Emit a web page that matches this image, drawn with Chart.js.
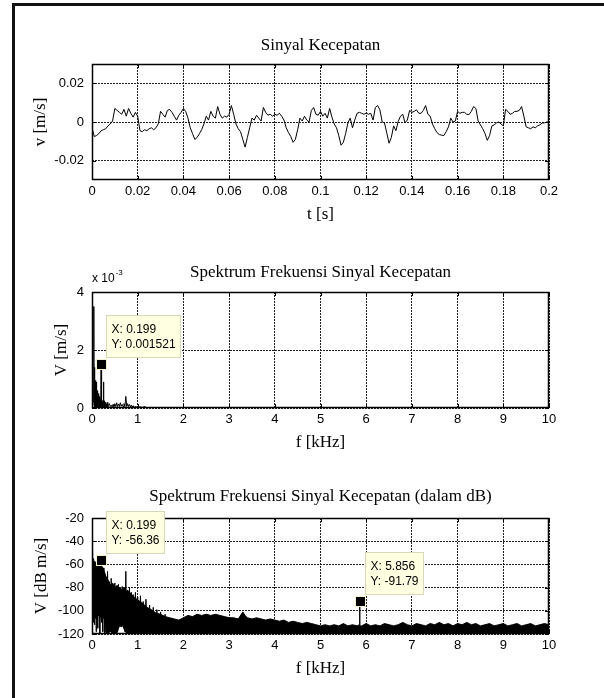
<!DOCTYPE html>
<html>
<head>
<meta charset="utf-8">
<script src="https://cdn.jsdelivr.net/npm/chart.js@4.4.0/dist/chart.umd.min.js"></script>
<style>
  html, body { margin: 0; padding: 0; background: #fff; }
  body { width: 604px; height: 698px; position: relative; overflow: hidden; }
  #frame { position: absolute; left: 12px; top: 3px; width: 600px; height: 700px;
           border-left: 3px solid #111; border-top: 3px solid #111; }
  canvas { position: absolute; left: 15px; }
  #c1 { top: 14px; }
  #c2 { top: 242px; }
  #c3 { top: 468px; }
</style>
</head>
<body>
<div id="frame"></div>
<canvas id="c1" width="589" height="216"></canvas>
<canvas id="c2" width="589" height="216"></canvas>
<canvas id="c3" width="589" height="216"></canvas>
<script>
// ── Data ─────────────────────────────────────────────────────────────
// velocity signal, one reading per millisecond from t = 0 to 0.2 s
const sampleStep = 0.001;
const velocity = [
  -0.0030, -0.0075, -0.0070, -0.0060, -0.0045, -0.0040, -0.0035, -0.0020, -0.0010, 0.0005,
   0.0070,  0.0060,  0.0050,  0.0040,  0.0065,  0.0030,  0.0070,  0.0045,  0.0025, 0.0050,
   0.0030, -0.0045, -0.0050, -0.0040, -0.0045, -0.0035, -0.0030, -0.0040, -0.0030, -0.0010,
   0.0055,  0.0040,  0.0025,  0.0060,  0.0065,  0.0050,  0.0030,  0.0010,  0.0035, 0.0050,
   0.0070,  0.0055,  0.0020, -0.0030, -0.0060, -0.0090, -0.0080, -0.0060, -0.0040, -0.0010,
   0.0030,  0.0010,  0.0055,  0.0030,  0.0020,  0.0080,  0.0040,  0.0020,  0.0030, 0.0025,
   0.0040,  0.0085,  0.0040, -0.0010, -0.0035, -0.0050, -0.0090, -0.0130, -0.0080, -0.0030,
   0.0020,  0.0010,  0.0035,  0.0020,  0.0005,  0.0075,  0.0050,  0.0035,  0.0040, 0.0030,
   0.0040,  0.0035,  0.0045,  0.0030,  0.0010, -0.0030, -0.0055, -0.0075, -0.0105, -0.0090,
  -0.0040,  0.0020,  0.0005,  0.0030,  0.0010,  0.0000,  0.0060,  0.0075,  0.0040, 0.0035,
   0.0055,  0.0030,  0.0045,  0.0020,  0.0070,  0.0025, -0.0010, -0.0030, -0.0070, -0.0120,
  -0.0105, -0.0060, -0.0005,  0.0020, -0.0030,  0.0010,  0.0045,  0.0050,  0.0045, 0.0040,
   0.0046,  0.0040,  0.0045,  0.0010,  0.0075,  0.0085,  0.0063,  0.0000, -0.0005, -0.0056,
  -0.0110, -0.0080, -0.0020, -0.0045,  0.0003,  0.0030,  0.0040, -0.0005,  0.0010, 0.0060,
   0.0050,  0.0055,  0.0063,  0.0045,  0.0045,  0.0060,  0.0085,  0.0040,  0.0030, -0.0010,
  -0.0035, -0.0055, -0.0065, -0.0068, -0.0070, -0.0050, -0.0025,  0.0020,  0.0000, 0.0005,
   0.0055,  0.0045,  0.0050,  0.0050,  0.0040,  0.0038,  0.0055,  0.0080,  0.0070, 0.0005,
  -0.0015, -0.0035, -0.0060, -0.0095, -0.0070, -0.0020, -0.0015, -0.0005,  0.0000, -0.0010,
  -0.0020,  0.0065,  0.0055,  0.0040,  0.0045,  0.0055,  0.0055,  0.0060,  0.0080, 0.0030,
  -0.0025, -0.0030, -0.0035, -0.0025, -0.0030, -0.0020, -0.0015, -0.0005, -0.0005, 0.0000,
   0.0000
];
const timeTicks = [0, 0.02, 0.04, 0.06, 0.08, 0.1, 0.12, 0.14, 0.16, 0.18, 0.2];
const timeTickLabels = ['0', '0.02', '0.04', '0.06', '0.08', '0.1', '0.12', '0.14', '0.16', '0.18', '0.2'];
const velTicks = [-0.02, 0, 0.02];
const velTickLabels = ['-0.02', '0', '0.02'];

// magnitude spectrum (kHz, m/s)
const specFreq = [
  0, 0.01, 0.02, 0.03, 0.04, 0.045, 0.05, 0.055, 0.06, 0.065, 0.07, 0.075, 0.08,
  0.085, 0.09, 0.095, 0.10, 0.105, 0.11, 0.115, 0.12, 0.125, 0.13, 0.135, 0.14, 0.145, 0.15,
  0.155, 0.16, 0.165, 0.17, 0.175, 0.18, 0.185, 0.19, 0.195, 0.199, 0.203, 0.21, 0.215, 0.22,
  0.225, 0.23, 0.235, 0.24, 0.245, 0.25, 0.255, 0.26, 0.265, 0.27, 0.275, 0.28, 0.29, 0.30,
  0.31, 0.32, 0.33, 0.34, 0.35, 0.36, 0.38, 0.40, 0.42, 0.44, 0.46, 0.48, 0.50, 0.52, 0.54,
  0.56, 0.58, 0.60, 0.62, 0.64, 0.66, 0.68, 0.70, 0.72, 0.74, 0.76, 0.78, 0.80, 0.82, 0.84,
  0.86, 0.88, 0.90, 0.92, 0.95, 1.0, 1.05, 1.1, 1.15, 1.2, 1.5, 2, 4, 6, 8, 10
];
const specMag = [
  0.0001, 0.0012, 0.0008, 0.0002, 0.0035, 0.0001, 0.0014, 0.00005, 0.0009, 0.00003, 0.0007, 0.00005, 0.00095,
  0.00003, 0.0006, 0.00005, 0.0009, 0.00003, 0.0005, 0.00005, 0.0006, 0.00003, 0.0004, 0.00005, 0.0005, 0.00003, 0.0003,
  0.00005, 0.0004, 0.00003, 0.0003, 0.00005, 0.00025, 0.00003, 0.0003, 0.00005, 0.001521, 0.00005, 0.0013, 0.00003, 0.00025,
  0.00005, 0.0002, 0.00003, 0.00015, 0.00003, 0.0009, 0.00003, 0.0002, 0.00003, 0.00025, 0.00003, 0.00015, 0.00003, 0.0002,
  0.00003, 0.00015, 0.00003, 0.0002, 0.00003, 0.0001, 0.00015, 0.00005, 0.0001, 0.00004, 0.00012, 0.00005, 0.00015, 0.00005, 0.00018,
  0.00005, 0.00014, 0.00005, 0.00018, 0.00006, 0.00012, 0.00005, 0.00015, 0.00005, 0.0004, 0.00005, 0.00015, 0.00005, 0.00012, 0.00004,
  0.0001, 0.00003, 0.00008, 0.00002, 0.00005, 0.00002, 0.00004, 0.00002, 0.00005, 0.00001, 0.000005, 0.000004, 0.000003, 0.000003, 0.000002, 0.000002
];
const freqTicks = [0, 1, 2, 3, 4, 5, 6, 7, 8, 9, 10];
const freqTickLabels = ['0', '1', '2', '3', '4', '5', '6', '7', '8', '9', '10'];
const specTicks = [0, 0.002, 0.004];
const specTickLabels = ['0', '2', '4'];

// dB spectrum: spiky low-frequency part (kHz, dB)
const dbSpikeFreq = [
  0, 0.005, 0.01, 0.015, 0.02, 0.03, 0.035, 0.045, 0.05, 0.06, 0.065, 0.075, 0.08, 0.09, 0.10,
  0.11, 0.12, 0.13, 0.14, 0.15, 0.16, 0.17, 0.18, 0.19, 0.199, 0.205, 0.21, 0.22, 0.23, 0.24,
  0.25, 0.26, 0.27, 0.28, 0.30, 0.32, 0.34, 0.36, 0.38, 0.40, 0.42, 0.44, 0.46, 0.48, 0.50,
  0.52, 0.54, 0.56, 0.58, 0.60, 0.62, 0.64, 0.66, 0.68, 0.70, 0.72, 0.74, 0.76, 0.78, 0.80,
  0.82, 0.84, 0.86, 0.88, 0.90, 0.92, 0.95, 0.98, 1.00, 1.03, 1.06, 1.09, 1.12, 1.15, 1.18,
  1.22, 1.26, 1.30, 1.34, 1.38, 1.42, 1.46, 1.50, 1.55, 1.60, 1.65
];
const dbSpikeVal = [
  -75, -48, -60, -95, -58, -110, -55, -100, -57, -112, -60, -95, -58, -118, -62,
  -100, -60, -115, -64, -98, -60, -120, -62, -105, -56.36, -110, -58, -100, -65, -118,
  -63, -105, -70, -120, -72, -115, -66, -120, -75, -118, -72, -120, -78, -115, -76,
  -120, -80, -118, -77, -112, -82, -114, -79, -112, -80, -118, -66, -120, -82, -118,
  -80, -120, -84, -118, -86, -120, -84, -118, -88, -120, -87, -118, -92, -120, -90,
  -118, -95, -120, -97, -118, -99, -120, -101, -118, -103, -120
];
// dB spectrum: dense noise band (kHz, upper edge dB, lower edge dB)
const dbBandFreq = [
  0, 0.02, 0.06, 0.10, 0.14, 0.18, 0.22, 0.27, 0.30, 0.36, 0.40, 0.45, 0.50, 0.55, 0.60,
  0.66, 0.72, 0.76, 0.80, 0.86, 0.92, 0.98, 1.05, 1.12, 1.20, 1.30, 1.40, 1.50, 1.60, 1.70,
  1.80, 1.90, 2.00, 2.10, 2.20, 2.30, 2.40, 2.50, 2.60, 2.70, 2.80, 2.90, 3.00, 3.10, 3.20,
  3.30, 3.35, 3.40, 3.50, 3.60, 3.70, 3.80, 3.90, 4.00, 4.10, 4.20, 4.30, 4.40, 4.50, 4.60,
  4.70, 4.80, 4.90, 5.00, 5.10, 5.20, 5.30, 5.40, 5.50, 5.60, 5.70, 5.80, 5.850, 5.856, 5.862,
  5.90, 6.00, 6.10, 6.20, 6.30, 6.40, 6.50, 6.60, 6.70, 6.80, 6.90, 7.00, 7.10, 7.20, 7.30,
  7.40, 7.50, 7.60, 7.70, 7.80, 7.90, 8.00, 8.10, 8.20, 8.30, 8.40, 8.50, 8.60, 8.70, 8.80,
  8.90, 9.00, 9.10, 9.20, 9.30, 9.40, 9.50, 9.60, 9.70, 9.80, 9.90, 10.0
];
const dbBandTop = [
  -62, -58, -60, -58, -60, -57, -62, -66, -70, -74, -78, -76, -80, -78, -80,
  -82, -80, -84, -83, -86, -88, -90, -92, -94, -97, -99, -102, -103, -105, -106,
  -107, -108, -106, -104, -105, -103, -104, -103, -104, -103, -104, -105, -106, -106, -107,
  -101, -104, -106, -107, -106, -107, -108, -107, -108, -109, -108, -110, -109, -110, -111,
  -110, -111, -112, -113, -112, -113, -112, -113, -111, -113, -112, -113, -112, -91.79, -113,
  -113, -111, -113, -112, -113, -111, -112, -113, -112, -110, -112, -113, -111, -112, -113,
  -111, -112, -110, -112, -111, -113, -111, -112, -110, -112, -111, -113, -112, -111, -113,
  -112, -111, -113, -112, -111, -113, -112, -111, -113, -112, -111, -112
];
const dbBandBottom = [
  -120, -104, -106, -108, -104, -106, -105, -108, -120, -120, -118, -120, -120, -120, -114,
  -113, -118, -120, -120, -120, -120, -120, -120, -120, -120, -120, -120, -120, -120, -120,
  -120, -120, -120, -120, -120, -120, -120, -120, -120, -120, -120, -120, -120, -120, -120,
  -120, -120, -120, -120, -120, -120, -120, -120, -120, -120, -120, -120, -120, -120, -120,
  -120, -120, -120, -120, -120, -120, -120, -120, -120, -120, -120, -120, -120, -120, -120,
  -120, -120, -120, -120, -120, -120, -120, -120, -120, -120, -120, -120, -120, -120, -120,
  -120, -120, -120, -120, -120, -120, -120, -120, -120, -120, -120, -120, -120, -120, -120,
  -120, -120, -120, -120, -120, -120, -120, -120, -120, -120, -120, -120
];
const dbTicks = [-120, -100, -80, -60, -40, -20];
const dbTickLabels = ['-120', '-100', '-80', '-60', '-40', '-20'];

// data cursors shown on the figure
const specTips = [{ x: 0.199, y: 0.001521, lines: ['X: 0.199', 'Y: 0.001521'] }];
const dbTips = [
  { x: 0.199, y: -56.36, lines: ['X: 0.199', 'Y: -56.36'] },
  { x: 5.856, y: -91.79, lines: ['X: 5.856', 'Y: -91.79'] }
];

// ── Plugins: MATLAB-style box, labels and data tips ─────────────────
const SERIF = '"Liberation Serif", "Times New Roman", serif';
const SANS = '"Liberation Sans", Arial, sans-serif';

const matlabBox = {
    id: 'matlabBox',
    afterDatasetsDraw(chart) {
        const { ctx, chartArea: a, scales } = chart;
        ctx.save();
        ctx.strokeStyle = '#000';
        ctx.lineWidth = 1.5;
        ctx.strokeRect(a.left + 0.5, a.top + 0.5, a.right - a.left - 1, a.bottom - a.top - 1);
        ctx.lineWidth = 1;
        ctx.beginPath();
        scales.x.ticks.forEach(t => {
            const px = Math.round(scales.x.getPixelForValue(t.value)) + 0.5;
            ctx.moveTo(px, a.bottom); ctx.lineTo(px, a.bottom - 4);
            ctx.moveTo(px, a.top); ctx.lineTo(px, a.top + 4);
        });
        scales.y.ticks.forEach(t => {
            const py = Math.round(scales.y.getPixelForValue(t.value)) + 0.5;
            ctx.moveTo(a.left, py); ctx.lineTo(a.left + 4, py);
            ctx.moveTo(a.right, py); ctx.lineTo(a.right - 4, py);
        });
        ctx.stroke();
        ctx.restore();
    }
};

const figText = {
    id: 'figText',
    afterDraw(chart, args, o) {
        const { ctx, chartArea: a, scales } = chart;
        const cx = (a.left + a.right) / 2;
        ctx.save();
        ctx.fillStyle = '#000';
        ctx.font = '17px ' + SERIF;
        ctx.textAlign = 'center';
        ctx.textBaseline = 'middle';
        ctx.fillText(o.title, cx, a.top - o.titleGap);
        ctx.fillText(o.xLabel, cx, a.bottom + o.xLabelGap);
        ctx.save();
        ctx.translate(a.left - o.yLabelGap, (a.top + a.bottom) / 2);
        ctx.rotate(-Math.PI / 2);
        ctx.fillText(o.yLabel, 0, 0);
        ctx.restore();

        if (o.exponent) {
            ctx.textAlign = 'left';
            ctx.font = '12px ' + SANS;
            ctx.fillText('x 10', a.left, a.top - 13);
            const w = ctx.measureText('x 10').width;
            ctx.font = '8px ' + SANS;
            ctx.fillText(o.exponent, a.left + w + 1, a.top - 19);
        }

        (o.tips || []).forEach(tip => {
            const px = scales.x.getPixelForValue(tip.x);
            const py = scales.y.getPixelForValue(tip.y);
            ctx.font = '12px ' + SANS;
            const w = Math.max(...tip.lines.map(l => ctx.measureText(l).width)) + 10;
            const h = 42;
            const bx = Math.round(px + 5) + 0.5;
            const by = Math.round(py - 7 - h) + 0.5;
            ctx.fillStyle = '#ffffe1';
            ctx.strokeStyle = '#d8d8b8';
            ctx.lineWidth = 1;
            ctx.fillRect(bx, by, w, h);
            ctx.strokeRect(bx, by, w, h);
            ctx.fillStyle = '#000';
            ctx.textAlign = 'left';
            ctx.textBaseline = 'middle';
            ctx.fillText(tip.lines[0], bx + 5, by + 14);
            ctx.fillText(tip.lines[1], bx + 5, by + 29);
            ctx.fillStyle = '#000';
            ctx.strokeStyle = '#f4f4c8';
            ctx.fillRect(Math.round(px) - 4, Math.round(py) - 4, 9, 9);
            ctx.strokeRect(Math.round(px) - 4.5, Math.round(py) - 4.5, 10, 10);
        });
        ctx.restore();
    }
};

function axisOptions(min, max, ticks, labels, isX) {
    return {
        type: 'linear',
        min, max,
        afterBuildTicks: scale => { scale.ticks = ticks.map(v => ({ value: v })); },
        afterFit: scale => {
            if (isX) scale.height = 50; else scale.width = 77;
        },
        grid: { color: '#222', lineWidth: 1, drawTicks: false },
        border: { display: false, dash: [2, 1] },
        ticks: {
            color: '#000',
            padding: isX ? 4 : 8,
            autoSkip: false,
            maxRotation: 0,
            font: { family: 'Liberation Sans', size: 13 },
            callback: (v, i) => labels[ticks.indexOf(v)] ?? ''
        }
    };
}

function makeChart(id, datasets, xAxis, yAxis, text) {
    return new Chart(document.getElementById(id), {
        type: 'line',
        data: { datasets },
        options: {
            responsive: false,
            animation: false,
            events: [],
            layout: { padding: { left: 0, top: 50, right: 55, bottom: 0 } },
            elements: { point: { radius: 0 }, line: { tension: 0 } },
            plugins: { legend: { display: false }, tooltip: { enabled: false }, figText: text },
            scales: { x: xAxis, y: yAxis }
        },
        plugins: [matlabBox, figText]
    });
}

// ── Charts ───────────────────────────────────────────────────────────
makeChart('c1',
    [{
        data: velocity.map((v, i) => ({ x: i * sampleStep, y: v })),
        borderColor: '#000', borderWidth: 1
    }],
    axisOptions(0, 0.2, timeTicks, timeTickLabels, true),
    axisOptions(-0.03, 0.03, velTicks, velTickLabels, false),
    { title: 'Sinyal Kecepatan', xLabel: 't [s]', yLabel: 'v [m/s]',
      titleGap: 18, xLabelGap: 35, yLabelGap: 51 }
);

makeChart('c2',
    [{
        data: specFreq.map((f, i) => ({ x: f, y: specMag[i] })),
        borderColor: '#000', borderWidth: 1
    }],
    axisOptions(0, 10, freqTicks, freqTickLabels, true),
    axisOptions(0, 0.004, specTicks, specTickLabels, false),
    { title: 'Spektrum Frekuensi Sinyal Kecepatan', xLabel: 'f [kHz]', yLabel: 'V [m/s]',
      titleGap: 19, xLabelGap: 35, yLabelGap: 30, exponent: '-3', tips: specTips }
);

makeChart('c3',
    [
        {
            data: dbBandFreq.map((f, i) => ({ x: f, y: dbBandTop[i] })),
            borderColor: '#000', borderWidth: 1,
            backgroundColor: '#000', fill: '+1'
        },
        {
            data: dbBandFreq.map((f, i) => ({ x: f, y: dbBandBottom[i] })),
            borderColor: 'rgba(0,0,0,0)', borderWidth: 0
        },
        {
            data: dbSpikeFreq.map((f, i) => ({ x: f, y: dbSpikeVal[i] })),
            borderColor: '#000', borderWidth: 1
        }
    ],
    axisOptions(0, 10, freqTicks, freqTickLabels, true),
    axisOptions(-120, -20, dbTicks, dbTickLabels, false),
    { title: 'Spektrum Frekuensi Sinyal Kecepatan (dalam dB)', xLabel: 'f [kHz]', yLabel: 'V [dB m/s]',
      titleGap: 21, xLabelGap: 35, yLabelGap: 50, tips: dbTips }
);
</script>
</body>
</html>
